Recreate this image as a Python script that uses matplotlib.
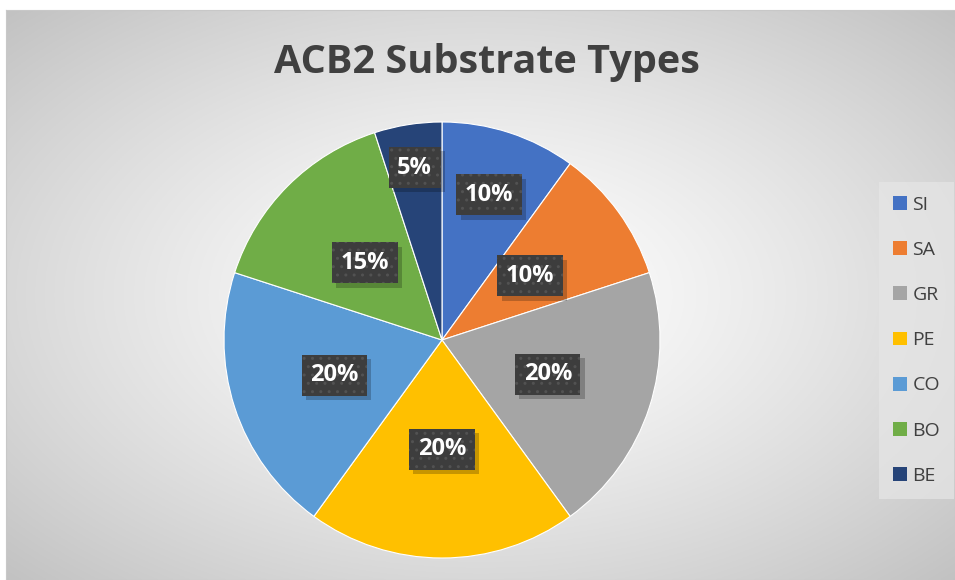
import matplotlib.pyplot as plt
import matplotlib.patheffects as pe
from matplotlib.patches import Patch
import numpy as np

labels = ['SI', 'SA', 'GR', 'PE', 'CO', 'BO', 'BE']
shares = [10, 10, 20, 20, 20, 15, 5]
pct_text = ['10%', '10%', '20%', '20%', '20%', '15%', '5%']
colors = ['#4472C4', '#ED7D31', '#A5A5A5', '#FFC000', '#5B9BD5', '#70AD47', '#264478']
label_r = [0.70, 0.50, 0.51, 0.50, 0.52, 0.50, 0.80]

plt.rcParams['font.family'] = ['Open Sans', 'DejaVu Sans']


class PlainShadow(pe.SimplePatchShadow):
    # shadow without the hatch of the box
    def draw_path(self, renderer, gc, tpath, affine, rgbFace):
        gc0 = renderer.new_gc()
        gc0.copy_properties(gc)
        gc0.set_hatch(None)
        super().draw_path(renderer, gc0, tpath, affine, rgbFace)
        gc0.restore()


W, H = 955, 580
fig = plt.figure(figsize=(W / 100, H / 100), dpi=100)

# chart area with radial gradient
bg = fig.add_axes([6 / W, 0, (W - 6) / W, (H - 10) / H])
yy, xx = np.mgrid[-1:1:300j, -1:1:500j]
rr = np.sqrt(xx ** 2 + yy ** 2) / np.sqrt(2)
shade = 1 - 0.24 * rr ** 1.3
bg.imshow(np.dstack([shade] * 3), aspect='auto', extent=[0, 1, 0, 1])
bg.set_xticks([])
bg.set_yticks([])
for s in bg.spines.values():
    s.set_color('#c8c8c8')
    s.set_linewidth(0.8)

# pie
cx, cy, R = 442, 340, 218
ax = fig.add_axes([(cx - R) / W, (H - cy - R) / H, 2 * R / W, 2 * R / H])
ax.pie(shares, colors=colors, startangle=90, counterclock=False,
       wedgeprops=dict(edgecolor='white', linewidth=0.8))
ax.set_xlim(-1, 1)
ax.set_ylim(-1, 1)

total = float(sum(shares))
cum = np.cumsum(shares)
for i, s in enumerate(shares):
    ang = np.deg2rad(90 - 360 * (cum[i] - s / 2) / total)
    x = label_r[i] * np.cos(ang)
    y = label_r[i] * np.sin(ang)
    t = ax.text(x, y, pct_text[i], color='white', fontsize=17, fontweight='bold',
                ha='center', va='center',
                bbox=dict(boxstyle='square,pad=0.36', fc='#3d3d3d', ec='#525252',
                          hatch='..', lw=0))
    t.get_bbox_patch().set_path_effects(
        [PlainShadow(offset=(3, -3), shadow_rgbFace='black', alpha=0.22),
         pe.Normal()])

fig.text(487 / W, 1 - 62 / H, 'ACB2 Substrate Types', fontsize=28.5,
         fontweight='bold', color='#404040', ha='center', va='center')

handles = [Patch(facecolor=c, edgecolor='none') for c in colors]
leg = fig.legend(handles, labels, loc='upper left',
                 bbox_to_anchor=(879 / W, 1 - 182 / H), borderaxespad=0,
                 fontsize=14, labelspacing=1.4, handlelength=0.72,
                 handleheight=0.72, handletextpad=0.3, borderpad=0.7,
                 frameon=True, fancybox=False)
leg.get_frame().set_facecolor('#e6e6e6')
leg.get_frame().set_edgecolor('none')
leg.get_frame().set_alpha(0.7)
for t in leg.get_texts():
    t.set_color('#404040')

fig.savefig('out.png', dpi=100)
